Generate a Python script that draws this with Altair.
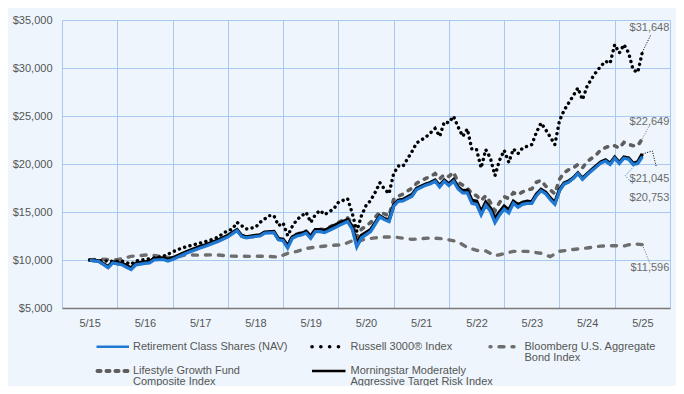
import altair as alt
import pandas as pd

# ---------------- data (months since May 2015, growth of $10,000) ----------------
months_fund = [0, 1, 2, 4, 5, 6, 7, 9, 10, 12, 13, 14, 16, 17, 18, 21, 24, 25, 28, 30,
               32, 33, 34, 36, 37, 38, 40, 41, 42, 43, 44, 45, 46, 47, 48, 49, 50, 51,
               53, 54, 56, 57, 58, 59, 61, 63, 64, 65, 66, 67, 68, 70, 71, 73, 74, 75,
               76, 77, 78, 79, 80, 81, 82, 83, 84, 85, 86, 87, 88, 89, 90, 91, 92, 93,
               94, 95, 96, 97, 98, 99, 100, 101, 102, 103, 104, 105, 106, 107, 108, 109,
               110, 111, 112, 113, 114, 115, 116, 117, 118, 119, 120]

retirement = [10000, 9900, 9850, 9200, 9700, 9600, 9500, 9000, 9500,
              9650, 9700, 10000, 10050, 9900, 10050,
              10700, 11250, 11400, 11950, 12400,
              13050, 12450, 12300, 12450, 12500, 12800,
              12850, 12100, 12000, 11250, 12250, 12500, 12600, 12800, 12250, 12950, 12950, 12850,
              13300, 13550, 14000, 13250, 11350, 12300,
              12950, 14500, 14200, 14000, 15600, 16100, 16150,
              16650, 17350, 17800, 17950, 18200, 17600, 18200, 17750, 18200, 17400,
              17000, 17000, 15900, 15800, 14700, 15700, 15100, 13900, 14700, 15300,
              14900, 15900, 15500, 15800, 15900, 15900, 16700, 17200, 16900, 16300,
              15800, 17200, 17900, 18100, 18500, 19000, 18400, 18900, 19300, 19700,
              20100, 20300, 19950, 20600, 20050, 20600, 20500, 19950, 20050, 20753]

morningstar = [10000, 9950, 9900, 9300, 9800, 9700, 9650, 9150, 9650,
               9800, 9850, 10150, 10200, 10050, 10200,
               10850, 11400, 11550, 12100, 12550,
               13150, 12550, 12400, 12550, 12600, 12900,
               12950, 12200, 12150, 11450, 12400, 12650, 12800, 12950, 12450, 13150, 13150, 13050,
               13550, 13800, 14200, 13500, 11650, 12550,
               13150, 14600, 14300, 14150, 15700, 16200, 16300,
               16800, 17450, 17900, 18050, 18300, 17750, 18300, 17900, 18350, 17600,
               17200, 17250, 16200, 16100, 15000, 16000, 15400, 14300, 15000, 15600,
               15200, 16100, 15750, 16000, 16100, 16050, 16850, 17350, 17050, 16450,
               15950, 17300, 18000, 18200, 18550, 19050, 18500, 18950, 19400, 19800,
               20200, 20400, 20050, 20700, 20150, 20700, 20600, 20050, 20200, 21045]

lifestyle = [10000, 9920, 9880, 9250, 9750, 9650, 9550, 9050, 9550,
             9750, 9800, 10100, 10150, 10000, 10150,
             10800, 11350, 11500, 12050, 12500,
             13100, 12500, 12350, 12500, 12550, 12900,
             12950, 12200, 12150, 11450, 12450, 12700, 12850, 13000, 12500, 13150, 13200, 13150,
             13650, 13900, 14400, 13800, 12400, 13200,
             13900, 15000, 14800, 14600, 16300, 16650, 16850,
             17500, 18000, 18500, 18700, 19000, 18450, 18900, 18700, 19150, 18100,
             17800, 17500, 16900, 16700, 16200, 16700, 16000, 15100, 16000, 16600,
             16400, 17000, 16800, 17100, 17300, 17400, 18100, 18300, 17700, 17300,
             16900, 18400, 19100, 19400, 19600, 19950, 19600, 20250, 20600, 20950,
             21500, 21700, 21900, 21900, 21650, 22250, 22050, 21900, 21900, 22649]

months_russell = [0, 2, 5, 7, 9, 10, 12, 14, 16, 18, 20, 22, 24, 26, 28, 29, 31, 32, 34,
                  36, 37, 39, 40, 41, 42, 43, 44, 45, 47, 48, 49, 50, 51, 53, 54, 56, 57,
                  58, 59] + list(range(60, 95)) + list(range(96, 121))

russell = [10000, 9950, 9860, 9900, 9550, 9900,
           10050, 10210, 10380, 10840, 11250, 11520, 11770, 12040, 12400, 12810,
           13230, 13920, 13230, 13400, 13920, 14620, 14620, 13580, 13860, 12530, 13500, 14200,
           14960, 13920, 14720, 15170, 14720, 15320, 16000, 16400, 14900, 12980, 14600,
           15660, 16200, 17050, 18050, 17400, 16910, 19000, 19800, 19750, 20530,
           21320, 22190, 22500, 22800, 23240, 23700, 22880, 24380, 24300, 24970,
           23860, 22880, 23650, 21500, 21500, 19590, 21500, 20630, 18790, 20400,
           21420, 20170, 21570, 21080, 21670,
           22020, 23300, 24270, 23580, 22820, 22020, 24500, 25590, 26360, 27120,
           27920, 26700, 28100, 28900, 29600, 30200, 30700, 30500, 32440, 31570,
           32440, 31600, 29800, 29550, 31648]

months_bond = [0, 2, 6, 9, 13, 15, 18, 21, 24, 27, 31, 35, 38, 41, 43, 45, 47, 50, 52, 55,
               57, 58, 60, 62, 64, 66, 70, 74, 77, 80, 82, 84, 86, 88, 89, 92, 95, 98, 100,
               102, 105, 108, 111, 114, 116, 118, 120]

bloomberg = [10000, 10100, 10030, 10380, 10550, 10400, 10200, 10550, 10500, 10550,
             10400, 10380, 10400, 10300, 10700, 10900, 11200, 11400, 11500, 11600,
             12000, 11900, 12200, 12300, 12400, 12400, 12150, 12300, 12200, 11900,
             11300, 11000, 10950, 10450, 10550, 10900, 10900, 10700, 10350, 10900,
             11100, 11250, 11450, 11500, 11450, 11700, 11596]

year_labels = ["5/15", "5/16", "5/17", "5/18", "5/19", "5/20", "5/21", "5/22", "5/23", "5/24", "5/25"]
y_ticks = [5000, 10000, 15000, 20000, 25000, 30000, 35000]

NAMES = {
    "ret": "Retirement Class Shares (NAV)",
    "rus": "Russell 3000® Index",
    "bbg": "Bloomberg U.S. Aggregate\nBond Index",
    "life": "Lifestyle Growth Fund\nComposite Index",
    "ms": "Morningstar Moderately\nAggressive Target Risk Index",
}

SERIES = {
    "bbg": (months_bond, bloomberg),
    "life": (months_fund, lifestyle),
    "rus": (months_russell, russell),
    "ms": (months_fund, morningstar),
    "ret": (months_fund, retirement),
}

# ---------------- styles & layout ----------------
W, H = 608, 288
XDOM = [-6, 126]
YDOM = [5000, 35000]
MPP = (XDOM[1] - XDOM[0]) / W     # months per pixel
DPP = (YDOM[1] - YDOM[0]) / H     # dollars per pixel
FONT = "Liberation Sans"
TXT = "#555555"
BG = "#EEF5FC"
GRID = "#A9C8F0"

STYLE = {
    "ret": dict(color="#1F78D2", strokeWidth=3.2),
    "rus": dict(color="#000000", strokeWidth=3.4, strokeDash=[0.1, 5.4], strokeCap="round"),
    "bbg": dict(color="#6E6E6E", strokeWidth=3.4, strokeDash=[5, 8], strokeCap="round"),
    "life": dict(color="#5E5E5E", strokeWidth=3.6, strokeDash=[3, 7], strokeCap="round"),
    "ms": dict(color="#000000", strokeWidth=3.6),
}
LEADER_COLOR = {"ret": "#1F78D2", "rus": "#000000", "bbg": "#777777", "life": "#777777", "ms": "#000000"}

# end label offsets (px) and leader line vertices (px) relative to last point
END_LABEL = {"rus": (27, -24), "life": (27, -17), "ms": (27, 25), "ret": (27, 41), "bbg": (27, 23)}
LEADER = {
    "rus": [(0, 0), (8.5, -17.5)],
    "life": [(0, 0), (7, -13)],
    "ms": [(0, 0), (10, -3), (14, 13)],
    "ret": [(0, 0), (-17, 19), (-9, 28)],
    "bbg": [(0, 0), (8, 20)],
}

# legend layout in view pixels: symbol x0, x1, y ; text x, text top y
LEGEND = {
    "ret": dict(x0=34.5, x1=67, y=326.7, tx=71, ty=320.5),
    "rus": dict(x0=250, x1=285, y=326.7, tx=288.5, ty=320.5),
    "bbg": dict(x0=428, x1=452, y=326.7, tx=462.5, ty=320.5, dashOffset=4),
    "life": dict(x0=35.5, x1=66, y=351, tx=71, ty=344.5),
    "ms": dict(x0=250, x1=283.5, y=351, tx=288.5, ty=344.5),
}

xs = alt.Scale(domain=XDOM, nice=False, zero=False)
ys = alt.Scale(domain=YDOM, nice=False, zero=False)

label_expr = ("datum.value >= 120 ? '' : " + str(year_labels) +
              "[round((datum.value + 6) / 12)]")

x_axis = alt.Axis(values=list(range(-6, 127, 12)), labelExpr=label_expr, labelOffset=W / 11 / 2,
                  labelFlush=False, labelOverlap=False, grid=True, gridColor=GRID, gridWidth=1,
                  ticks=False, domainColor="#7A7A7A", domainWidth=1.5, labelPadding=9,
                  labelFont=FONT, labelFontSize=11, labelColor=TXT, title=None)
y_axis = alt.Axis(values=y_ticks, format="$,.0f", grid=True, gridColor=GRID, gridWidth=1,
                  ticks=False, domain=False, labelPadding=10, labelFont=FONT,
                  labelFontSize=11, labelColor=TXT, title=None)

X = alt.X("m:Q", scale=xs, axis=x_axis, title=None)
Y = alt.Y("v:Q", scale=ys, axis=y_axis, title=None)

layers = []
for key, (ms_, vals) in SERIES.items():
    df = pd.DataFrame({"m": ms_, "v": vals})
    layers.append(alt.Chart(df).mark_line(**STYLE[key]).encode(x=X, y=Y))

# leader lines and end labels
for key, (ms_, vals) in SERIES.items():
    m_end, v_end = ms_[-1], vals[-1]
    pts = pd.DataFrame({
        "m": [m_end + dx * MPP for dx, dy in LEADER[key]],
        "v": [v_end - dy * DPP for dx, dy in LEADER[key]],
        "o": list(range(len(LEADER[key]))),
    })
    layers.append(
        alt.Chart(pts).mark_line(color=LEADER_COLOR[key], strokeWidth=1, strokeDash=[1, 1.5]).encode(
            x=X, y=Y, order="o:Q"
        )
    )
    dx, dy = END_LABEL[key]
    lab = pd.DataFrame({"m": [m_end], "v": [v_end]})
    layers.append(
        alt.Chart(lab).mark_text(align="right", baseline="middle", dx=dx, dy=dy, font=FONT,
                                 fontSize=11, color="#6A6A6A").encode(
            x=X, y=Y, text=alt.Text("v:Q", format="$,.0f"),
        )
    )

# legend
for key in ["ret", "rus", "bbg", "life", "ms"]:
    L = LEGEND[key]
    st = dict(STYLE[key])
    if key in ("ret", "ms"):
        st["strokeWidth"] = 2.6
    if key == "rus":
        st["strokeDash"] = [0.1, 8.7]
        st["strokeWidth"] = 3.6
    if key == "life":
        st["strokeDash"] = [3, 6]
        st["strokeWidth"] = 4
    if "dashOffset" in L:
        st["strokeDashOffset"] = L["dashOffset"]
    ldf = pd.DataFrame({"name": [NAMES[key]]})
    layers.append(
        alt.Chart(ldf).mark_rule(**st).encode(
            x=alt.value(L["x0"]), x2=alt.value(L["x1"]), y=alt.value(L["y"])
        )
    )
    layers.append(
        alt.Chart(ldf).mark_text(align="left", baseline="top", lineBreak="\n", lineHeight=11.8,
                                 font=FONT, fontSize=11, color=TXT).encode(
            x=alt.value(L["tx"]), y=alt.value(L["ty"]), text="name:N"
        )
    )

chart = alt.layer(*layers).properties(
    width=W, height=H,
    padding={"left": 54, "top": 12, "right": 6, "bottom": 78},
    autosize=alt.AutoSizeParams(type="none"),
    background=BG,
).configure_view(stroke=None)

chart.save("out.html", embed_options={"renderer": "svg", "actions": False})
